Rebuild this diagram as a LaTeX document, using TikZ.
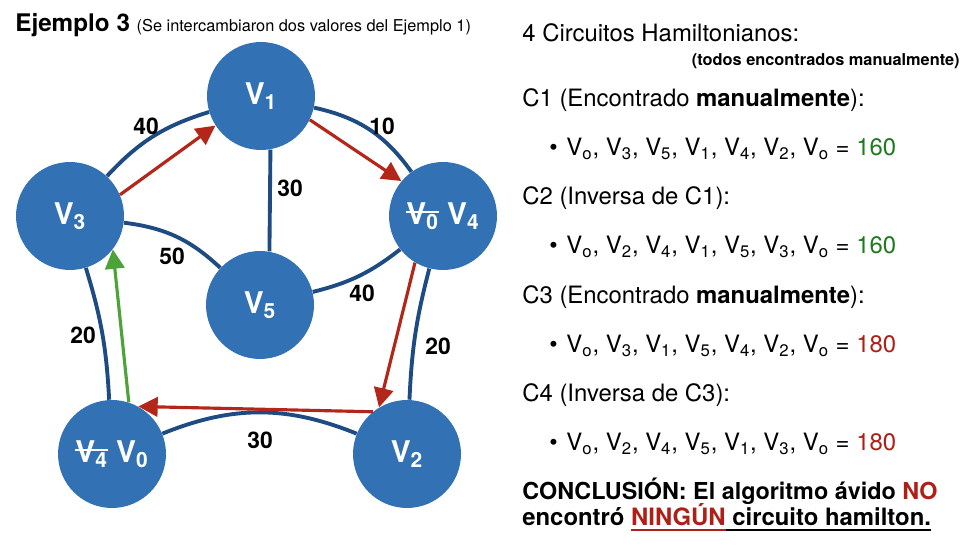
\documentclass[tikz,border=0pt]{standalone}
\usepackage{fontspec}
\setmainfont{TeX Gyre Heros}
\usetikzlibrary{arrows.meta}
\definecolor{nodeblue}{HTML}{3271B4}
\definecolor{edgeblue}{HTML}{1D4B82}
\definecolor{arrred}{HTML}{B3271A}
\definecolor{arrgreen}{HTML}{4EA23A}
\definecolor{txtgreen}{HTML}{1F7A1F}
\definecolor{txtred}{HTML}{AE1F17}
\newcommand{\vx}[1]{V\textsubscript{#1}}
\newsavebox{\marcabox}
\newcommand{\tacha}[1]{\sbox\marcabox{#1}\rlap{\usebox\marcabox}\rule[.4em]{\wd\marcabox}{1.1pt}}
\newcommand{\subraya}[1]{\sbox\marcabox{#1}\rlap{\usebox\marcabox}\rule[-3pt]{\wd\marcabox}{1.1pt}}

\begin{document}
\begin{tikzpicture}[x=0.02cm,y=-0.02cm,>={Triangle[length=11pt,width=11pt]},
  vert/.style={circle,fill=nodeblue,minimum size=2.16cm,inner sep=0pt,text=white,font=\fontsize{17}{20}\selectfont\bfseries},
  wedge/.style={draw=edgeblue,line width=2.2pt},
  wlbl/.style={inner sep=0pt,font=\fontsize{13}{15}\selectfont\bfseries},
  walk/.style={->,draw=arrred,fill=arrred,line width=1.8pt},
  txt/.style={anchor=base west,inner sep=0pt,font=\fontsize{13.6}{16}\selectfont}]
  \useasboundingbox (0,0) rectangle (978,550);

  % titulo
  \node[txt,font=\fontsize{13.8}{16}\selectfont\bfseries] (titulo) at (15,32)
    {Ejemplo 3 {\mdseries\fontsize{9.3}{11}\selectfont (Se intercambiaron dos valores del Ejemplo 1)}};

  % grafo
  \node[vert] (v1) at (261,96) {\vx{1}};
  \node[vert] (v3) at (70,216) {\vx{3}};
  \node[vert] (v4) at (443,216) {\tacha{\vx{0}} \vx{4}};
  \node[vert] (v5) at (260,305) {\vx{5}};
  \node[vert] (v0) at (112,454) {\tacha{\vx{4}} \vx{0}};
  \node[vert] (v2) at (407,454) {\vx{2}};

  \draw[wedge,bend left=15] (v3) to (v1);
  \draw[wedge,bend left=21] (v1) to (v4);
  \draw[wedge] (v1.-80) -- (v5.80);
  \draw[wedge,bend left=18] (v3) to (v5);
  \draw[wedge,bend right=12] (v5) to (v4);
  \draw[wedge,bend left=7] (v3) to (v0);
  \draw[wedge,bend right=6] (v4) to (v2);
  \draw[wedge,bend left=22] (v0) to (v2);

  \node[wlbl] (w31) at (146,126) {40};
  \node[wlbl] (w14) at (382,126) {10};
  \node[wlbl] (w15) at (290,188) {30};
  \node[wlbl] (w35) at (172,256) {50};
  \node[wlbl] (w54) at (362,293) {40};
  \node[wlbl] (w30) at (83,335) {20};
  \node[wlbl] (w42) at (438,346) {20};
  \node[wlbl] (w02) at (260,440) {30};

  % recorrido del algoritmo
  \draw[walk] (v3.23) -- (v1.213);
  \draw[walk] (v1.-26) -- (v4.140);
  \draw[walk] (v4.239) -- (v2.121);
  \draw[walk] (v2.129) -- (v0.61);
  \draw[walk,draw=arrgreen,fill=arrgreen] (v0.72) -- (v3.-38);

  % circuitos
  \node[txt] (hd) at (522,42) {4 Circuitos Hamiltonianos:};
  \node[txt,anchor=base east,font=\fontsize{9.3}{11}\selectfont\bfseries] (nota) at (960,66) {(todos encontrados manualmente)};
  \node[txt] (c1) at (522,107) {C1 (Encontrado \textbf{manualmente}):};
  \node[txt] (c1v) at (549,156) {\textbullet\hspace{5pt}\vx{o}, \vx{3}, \vx{5}, \vx{1}, \vx{4}, \vx{2}, \vx{o} = \textcolor{txtgreen}{160}};
  \node[txt] (c2) at (522,205) {C2 (Inversa de C1):};
  \node[txt] (c2v) at (549,254) {\textbullet\hspace{5pt}\vx{o}, \vx{2}, \vx{4}, \vx{1}, \vx{5}, \vx{3}, \vx{o} = \textcolor{txtgreen}{160}};
  \node[txt] (c3) at (522,304) {C3 (Encontrado \textbf{manualmente}):};
  \node[txt] (c3v) at (549,353) {\textbullet\hspace{5pt}\vx{o}, \vx{3}, \vx{1}, \vx{5}, \vx{4}, \vx{2}, \vx{o} = \textcolor{txtred}{180}};
  \node[txt] (c4) at (522,402) {C4 (Inversa de C3):};
  \node[txt] (c4v) at (549,451) {\textbullet\hspace{5pt}\vx{o}, \vx{2}, \vx{4}, \vx{5}, \vx{1}, \vx{3}, \vx{o} = \textcolor{txtred}{180}};

  \node[txt,font=\fontsize{13.3}{16}\selectfont\bfseries] (fin1) at (522,500) {CONCLUSIÓN: El algoritmo ávido \textcolor{txtred}{NO}};
  \node[txt,font=\fontsize{13.6}{16}\selectfont\bfseries] (fin2) at (522,526)
    {encontró \textcolor{txtred}{\subraya{NINGÚN}}\subraya{\ circuito hamilton.}};
\end{tikzpicture}
\end{document}
